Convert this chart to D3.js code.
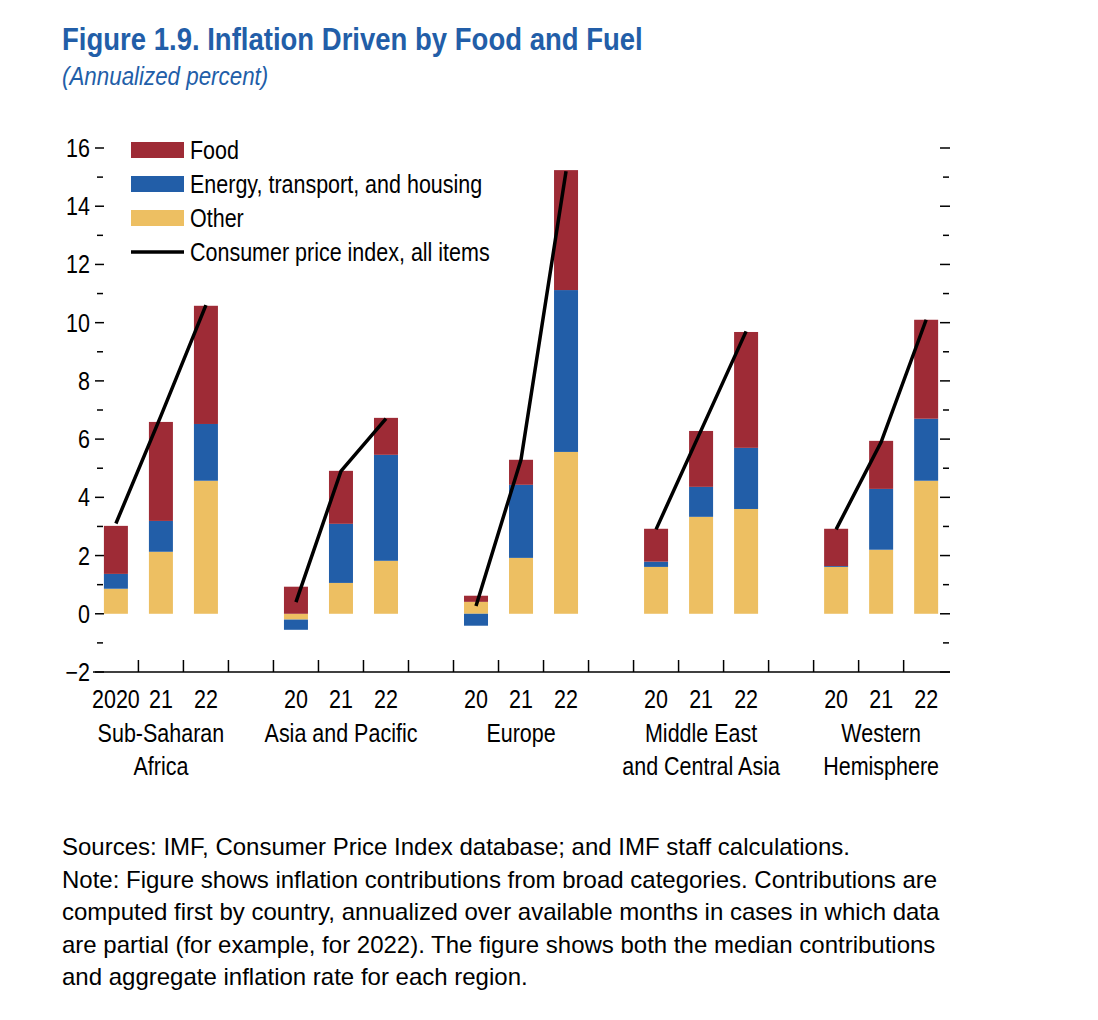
<!DOCTYPE html><html><head><meta charset="utf-8">
<script src="https://cdn.jsdelivr.net/npm/d3@7"></script>
<style>body{margin:0;background:#fff}text{font-family:"Liberation Sans Narrow","Arial Narrow","Liberation Sans",sans-serif}</style>
</head><body><svg id="c" width="1098" height="1020"></svg><script>
const regions=[["Sub-Saharan","Africa"],["Asia and Pacific"],["Europe"],["Middle East","and Central Asia"],["Western","Hemisphere"]];
const yearsFirst=["2020","21","22"];
const years=["20","21","22"];
const otherV=[[0.86,2.13,4.57],[-0.2,1.06,1.82],[0.41,1.92,5.56],[1.61,3.33,3.6],[1.61,2.2,4.57]];
const energyV=[[0.51,1.06,1.95],[-0.35,2.03,3.64],[-0.41,2.51,5.56],[0.18,1.03,2.1],[0.03,2.09,2.13]];
const foodV=[[1.65,3.4,4.06],[0.93,1.82,1.27],[0.21,0.86,4.12],[1.13,1.92,3.98],[1.28,1.65,3.4]];
const cpiV=[[3.1,6.8,10.6],[0.4,4.9,6.7],[0.27,5.3,15.2],[2.9,6.3,9.7],[2.9,5.9,10.1]];
const yTicks=[-2,0,2,4,6,8,10,12,14,16];
const C={food:"#9e2b36",energy:"#225ea8",other:"#edbf62"};
const svg=d3.select("#c");
const x=d3.scaleLinear().domain([-0.42,18.53]).range([97,950]);
const y=d3.scaleLinear().domain([-2,16]).range([672,148]);
const bw=24;
function nt(px,py,t,size,anchor){return svg.append("text").attr("transform",`translate(${px},${py}) scale(0.86,1)`).attr("text-anchor",anchor||"start").attr("font-size",size).text(t);}
nt(62,50,"Figure 1.9.  Inflation Driven by Food and Fuel",32).attr("fill","#225ea8").attr("font-weight","bold");
nt(62,85,"(Annualized percent)",26).attr("fill","#225ea8").attr("font-style","italic");
for(let v=-2;v<=16;v++){const maj=v%2===0;
 svg.append("line").attr("x1",maj?95:97).attr("x2",maj?104:103).attr("y1",y(v)).attr("y2",y(v)).attr("stroke","#000").attr("stroke-width",1.5);
 svg.append("line").attr("x1",maj?940:943).attr("x2",maj?950:949).attr("y1",y(v)).attr("y2",y(v)).attr("stroke","#000").attr("stroke-width",1.5);}
yTicks.forEach(v=>nt(90,y(v)+9,v<0?"\u2212"+(-v):String(v),25,"end"));
regions.forEach((r,g)=>{(g===0?yearsFirst:years).forEach((yr,i)=>{
 const s=g*4+i,cx=x(s);
 let pos=0,neg=0;
 [["other",otherV],["energy",energyV],["food",foodV]].forEach(([k,arr])=>{const v=arr[g][i];let a,b;
  if(v>=0){a=pos;b=pos+v;pos=b}else{a=neg;b=neg+v;neg=b}
  svg.append("rect").attr("x",cx-bw/2).attr("width",bw).attr("y",y(Math.max(a,b))).attr("height",Math.abs(y(a)-y(b))).attr("fill",C[k]);});
 nt(cx,708,yr,25,"middle");
 });
 svg.append("path").attr("d",d3.line().x((d,i)=>x(g*4+i)).y(d=>y(d))(cpiV[g])).attr("fill","none").attr("stroke","#000").attr("stroke-width",3.5);
 r.forEach((t,j)=>nt(x(g*4+1),742+j*33,t,25,"middle"));
});
svg.append("line").attr("x1",93).attr("x2",950).attr("y1",y(-2)).attr("y2",y(-2)).attr("stroke","#000").attr("stroke-width",1.5);
d3.range(0,18).forEach(k=>svg.append("line").attr("x1",x(k+0.5)).attr("x2",x(k+0.5)).attr("y1",y(-2)).attr("y2",y(-2)-12).attr("stroke","#000").attr("stroke-width",1.5));
const leg=[["Food",C.food],["Energy, transport, and housing",C.energy],["Other",C.other],["Consumer price index, all items","#000"]];
leg.forEach(([t,c],i)=>{const yy=150+i*34;
 if(i<3)svg.append("rect").attr("x",131).attr("y",yy-8).attr("width",53).attr("height",16).attr("fill",c);
 else svg.append("line").attr("x1",131).attr("x2",184).attr("y1",yy).attr("y2",yy).attr("stroke","#000").attr("stroke-width",3.5);
 nt(190,yy+9,t,25);});
const notes=["Sources: IMF, Consumer Price Index database; and IMF staff calculations.","Note: Figure shows inflation contributions from broad categories. Contributions are","computed first by country, annualized over available months in cases in which data","are partial (for example, for 2022). The figure shows both the median contributions","and aggregate inflation rate for each region."];
notes.forEach((t,i)=>svg.append("text").attr("x",62).attr("y",855+i*32.5).attr("font-size",24).text(t));
</script></body></html>
